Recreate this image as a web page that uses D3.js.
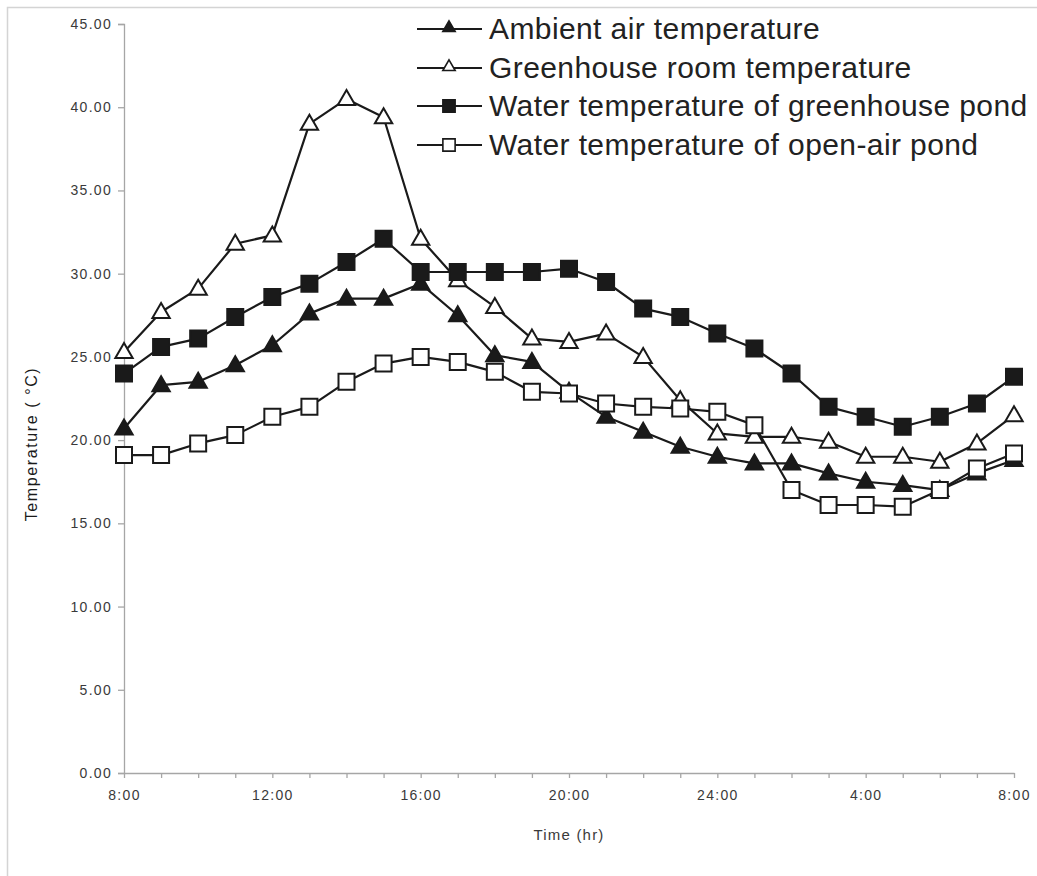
<!DOCTYPE html>
<html>
<head>
<meta charset="utf-8">
<script src="https://cdn.jsdelivr.net/npm/d3@7"></script>
<style>
  html, body { margin: 0; padding: 0; background: #fff; }
  svg { display: block; font-family: "Liberation Sans", Arial, sans-serif; }
</style>
</head>
<body>
<svg id="chart" width="1037" height="876"></svg>
<script>
// ---- data ----
const hours = d3.range(0, 25); // 8:00 .. 8:00 next day, hourly
const xTickLabels = ["8:00", "12:00", "16:00", "20:00", "24:00", "4:00", "8:00"];
const yTicks = [0, 5, 10, 15, 20, 25, 30, 35, 40, 45];

const ambientAir = [20.7, 23.3, 23.5, 24.5, 25.7, 27.6, 28.5, 28.5, 29.4, 27.5, 25.1, 24.7, 22.9, 21.4, 20.5, 19.6, 19.0, 18.6, 18.6, 18.0, 17.5, 17.3, 17.0, 18.0, 18.8];
const greenhouseRoom = [25.3, 27.7, 29.1, 31.8, 32.3, 39.0, 40.5, 39.4, 32.1, 29.6, 28.0, 26.1, 25.9, 26.4, 25.0, 22.4, 20.4, 20.2, 20.2, 19.9, 19.0, 19.0, 18.7, 19.8, 21.5];
const greenhousePond = [24.0, 25.6, 26.1, 27.4, 28.6, 29.4, 30.7, 32.1, 30.1, 30.1, 30.1, 30.1, 30.3, 29.5, 27.9, 27.4, 26.4, 25.5, 24.0, 22.0, 21.4, 20.8, 21.4, 22.2, 23.8];
const openAirPond = [19.1, 19.1, 19.8, 20.3, 21.4, 22.0, 23.5, 24.6, 25.0, 24.7, 24.1, 22.9, 22.8, 22.2, 22.0, 21.9, 21.7, 20.9, 17.0, 16.1, 16.1, 16.0, 17.0, 18.3, 19.2];

const seriesNames = [
  "Ambient air temperature",
  "Greenhouse room temperature",
  "Water temperature of greenhouse pond",
  "Water temperature of open-air pond"
];
const seriesValues = [ambientAir, greenhouseRoom, greenhousePond, openAirPond];
const seriesShapes = ["triangle", "triangle", "square", "square"];
const seriesFilled = [true, false, true, false];

// ---- layout ----
const svg = d3.select("#chart");
const x = d3.scaleLinear().domain([0, 24]).range([124, 1014]);
const y = d3.scaleLinear().domain([0, 45]).range([773, 24]);
const axisColor = "#a6a6a6";
const textColor = "#3a3a3a";

// outer frame (top and left visible)
svg.append("rect")
  .attr("x", 7.5).attr("y", 7.5)
  .attr("width", 1100).attr("height", 1000)
  .attr("fill", "none").attr("stroke", "#d4d4d4").attr("stroke-width", 1.5);

// y axis
const yAxis = svg.append("g").attr("transform", `translate(${x(0)},0)`)
  .call(d3.axisLeft(y).tickValues(yTicks).tickFormat(d3.format(".2f")).tickSize(6).tickPadding(6));
yAxis.select(".domain").attr("stroke", axisColor).attr("stroke-width", 1.3);
yAxis.selectAll(".tick line").attr("stroke", axisColor).attr("stroke-width", 1.3);
yAxis.selectAll(".tick text")
  .attr("fill", textColor).attr("font-size", 14).attr("letter-spacing", "1.3px")
  .attr("font-family", "Liberation Sans, Arial, sans-serif");

// x axis
const xAxis = svg.append("g").attr("transform", `translate(0,${y(0)})`)
  .call(d3.axisBottom(x).tickValues(hours).tickSize(5).tickSizeOuter(0)
    .tickFormat(d => (d % 4 === 0 ? xTickLabels[d / 4] : "")).tickPadding(12));
xAxis.select(".domain").attr("stroke", axisColor).attr("stroke-width", 1.3);
xAxis.selectAll(".tick line").attr("stroke", axisColor).attr("stroke-width", 1.3);
xAxis.selectAll(".tick text")
  .attr("fill", textColor).attr("font-size", 14).attr("letter-spacing", "1.3px")
  .attr("font-family", "Liberation Sans, Arial, sans-serif");

// axis titles
svg.append("text")
  .attr("x", x(12)).attr("y", 840)
  .attr("text-anchor", "middle")
  .attr("font-size", 15).attr("letter-spacing", "1.2px")
  .attr("fill", textColor)
  .text("Time (hr)");

svg.append("text")
  .attr("transform", `translate(37,${444}) rotate(-90)`)
  .attr("text-anchor", "middle")
  .attr("font-size", 16).attr("letter-spacing", "1.6px")
  .attr("fill", "#1a1a1a")
  .text("Temperature ( °C)");

// ---- series ----
function symbolPath(shape, big) {
  if (shape === "triangle") return d3.symbol().type(d3.symbolTriangle).size(big ? 130 : 66)();
  return d3.symbol().type(d3.symbolSquare).size(big ? 256 : 150)();
}

const line = d3.line().x((d, i) => x(hours[i])).y(d => y(d));

seriesValues.forEach((vals, s) => {
  const g = svg.append("g");
  g.append("path")
    .attr("d", line(vals))
    .attr("fill", "none").attr("stroke", "#1a1a1a").attr("stroke-width", 2.2)
    .attr("stroke-linejoin", "round");
  const yOff = seriesShapes[s] === "triangle" ? 1 : 0;
  g.selectAll("path.m").data(vals).enter().append("path")
    .attr("class", "m")
    .attr("d", symbolPath(seriesShapes[s], true))
    .attr("transform", (d, i) => `translate(${x(hours[i])},${y(d) + yOff})`)
    .attr("fill", seriesFilled[s] ? "#1a1a1a" : "#fff")
    .attr("stroke", "#1a1a1a").attr("stroke-width", 2);
});

// ---- legend ----
const legendRows = [29, 68, 106, 145];
seriesNames.forEach((name, s) => {
  const ly = legendRows[s];
  const g = svg.append("g");
  g.append("line").attr("x1", 417).attr("x2", 482).attr("y1", ly).attr("y2", ly)
    .attr("stroke", "#1a1a1a").attr("stroke-width", 2);
  g.append("path")
    .attr("d", symbolPath(seriesShapes[s], false))
    .attr("transform", `translate(449,${ly + (seriesShapes[s] === "triangle" ? -1 : 0)})`)
    .attr("fill", seriesFilled[s] ? "#1a1a1a" : "#fff")
    .attr("stroke", "#1a1a1a").attr("stroke-width", 1.6);
  g.append("text")
    .attr("x", 489).attr("y", ly + 10)
    .attr("font-size", 30).attr("letter-spacing", "0.4px")
    .attr("fill", "#222")
    .text(name);
});
</script>
</body>
</html>
